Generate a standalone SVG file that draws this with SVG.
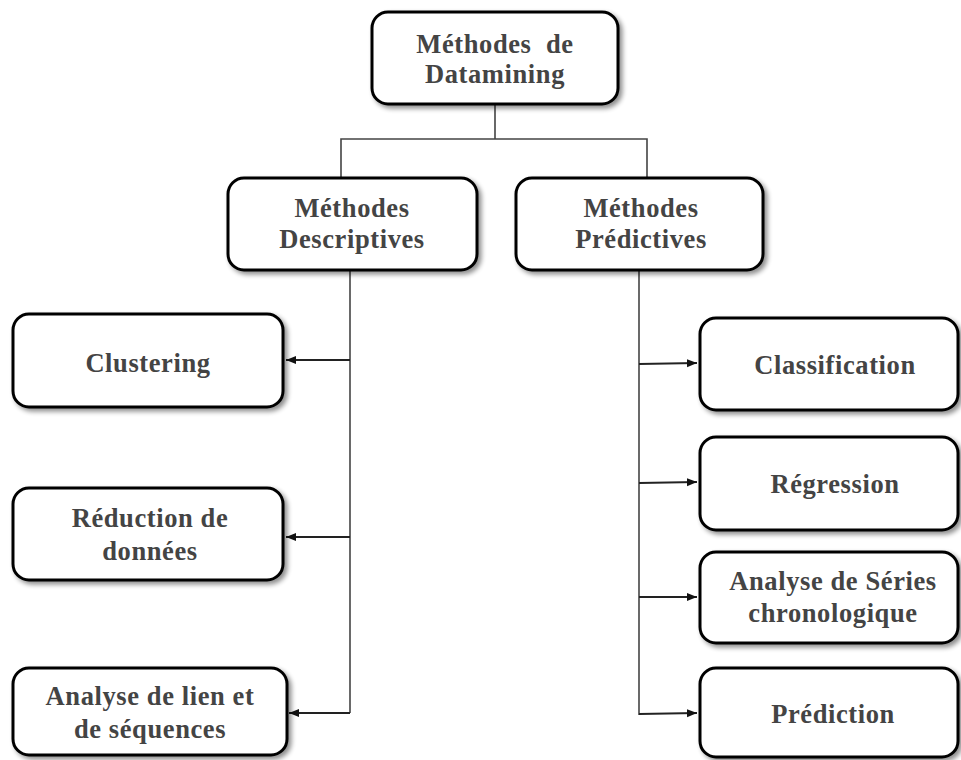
<svg xmlns="http://www.w3.org/2000/svg" width="961" height="760" viewBox="0 0 961 760">
  <defs>
    <filter id="shadow" x="-10%" y="-10%" width="130%" height="140%">
      <feGaussianBlur in="SourceAlpha" stdDeviation="2.5"/>
      <feOffset dx="3" dy="3" result="b"/>
      <feComponentTransfer><feFuncA type="linear" slope="0.45"/></feComponentTransfer>
      <feMerge><feMergeNode/><feMergeNode in="SourceGraphic"/></feMerge>
    </filter>
    <marker id="arrow" viewBox="0 0 10 10" refX="10" refY="5" markerWidth="10" markerHeight="10" markerUnits="userSpaceOnUse" orient="auto">
      <path d="M0,1 L10,5 L0,9 Z" fill="#111"/>
    </marker>
  </defs>
  <style>
    .box { fill: #ffffff; stroke: #000000; stroke-width: 3; filter: url(#shadow); }
    .lbl { font-family: "Liberation Serif", "DejaVu Serif", "Times New Roman", serif; font-weight: bold; font-size: 26.5px; letter-spacing: 0.6px; fill: #444444; text-anchor: middle; }
    .wire { fill: none; stroke: #444444; stroke-width: 1.6; }
    .arr { fill: none; stroke: #222222; stroke-width: 1.8; marker-end: url(#arrow); }
  </style>
  <rect width="961" height="760" fill="#ffffff"/>

  <!-- connectors -->
  <g id="connectors">
    <path class="wire" d="M495,104 V139 M341,178 V139 H647 V178"/>
    <path class="wire" d="M350,270 V713"/>
    <path class="wire" d="M639,270 V715"/>
    <line class="arr" x1="350" y1="360" x2="286" y2="360"/>
    <line class="arr" x1="350" y1="537" x2="286" y2="537"/>
    <line class="arr" x1="350" y1="713" x2="289" y2="713"/>
    <line class="arr" x1="639" y1="364" x2="697" y2="363"/>
    <line class="arr" x1="639" y1="483" x2="697" y2="482"/>
    <line class="arr" x1="639" y1="597" x2="697" y2="597"/>
    <line class="arr" x1="639" y1="714" x2="697" y2="713"/>
  </g>

  <g id="root">
    <rect class="box" x="372" y="12" width="246" height="92" rx="16"/>
    <text class="lbl" x="495" y="53" xml:space="preserve">Méthodes  de</text>
    <text class="lbl" x="495" y="83">Datamining</text>
  </g>

  <g id="descriptives">
    <rect class="box" x="228" y="178" width="249" height="92" rx="16"/>
    <text class="lbl" x="352" y="217">Méthodes</text>
    <text class="lbl" x="352" y="248">Descriptives</text>
  </g>

  <g id="predictives">
    <rect class="box" x="516" y="178" width="247" height="92" rx="16"/>
    <text class="lbl" x="641" y="217">Méthodes</text>
    <text class="lbl" x="641" y="248">Prédictives</text>
  </g>

  <g id="clustering">
    <rect class="box" x="13" y="314" width="270" height="93" rx="16"/>
    <text class="lbl" x="148" y="372">Clustering</text>
  </g>

  <g id="reduction">
    <rect class="box" x="13" y="488" width="270" height="92" rx="16"/>
    <text class="lbl" x="150" y="527">Réduction de</text>
    <text class="lbl" x="150" y="560">données</text>
  </g>

  <g id="liens">
    <rect class="box" x="13" y="668" width="274" height="87" rx="16"/>
    <text class="lbl" x="150" y="705">Analyse de lien et</text>
    <text class="lbl" x="150" y="738">de séquences</text>
  </g>

  <g id="classification">
    <rect class="box" x="700" y="318" width="258" height="92" rx="16"/>
    <text class="lbl" x="835" y="374">Classification</text>
  </g>

  <g id="regression">
    <rect class="box" x="700" y="437" width="258" height="93" rx="16"/>
    <text class="lbl" x="835" y="493">Régression</text>
  </g>

  <g id="series">
    <rect class="box" x="700" y="552" width="258" height="91" rx="16"/>
    <text class="lbl" x="833" y="590">Analyse de Séries</text>
    <text class="lbl" x="833" y="622">chronologique</text>
  </g>

  <g id="prediction">
    <rect class="box" x="700" y="668" width="258" height="89" rx="16"/>
    <text class="lbl" x="833" y="723">Prédiction</text>
  </g>
</svg>
